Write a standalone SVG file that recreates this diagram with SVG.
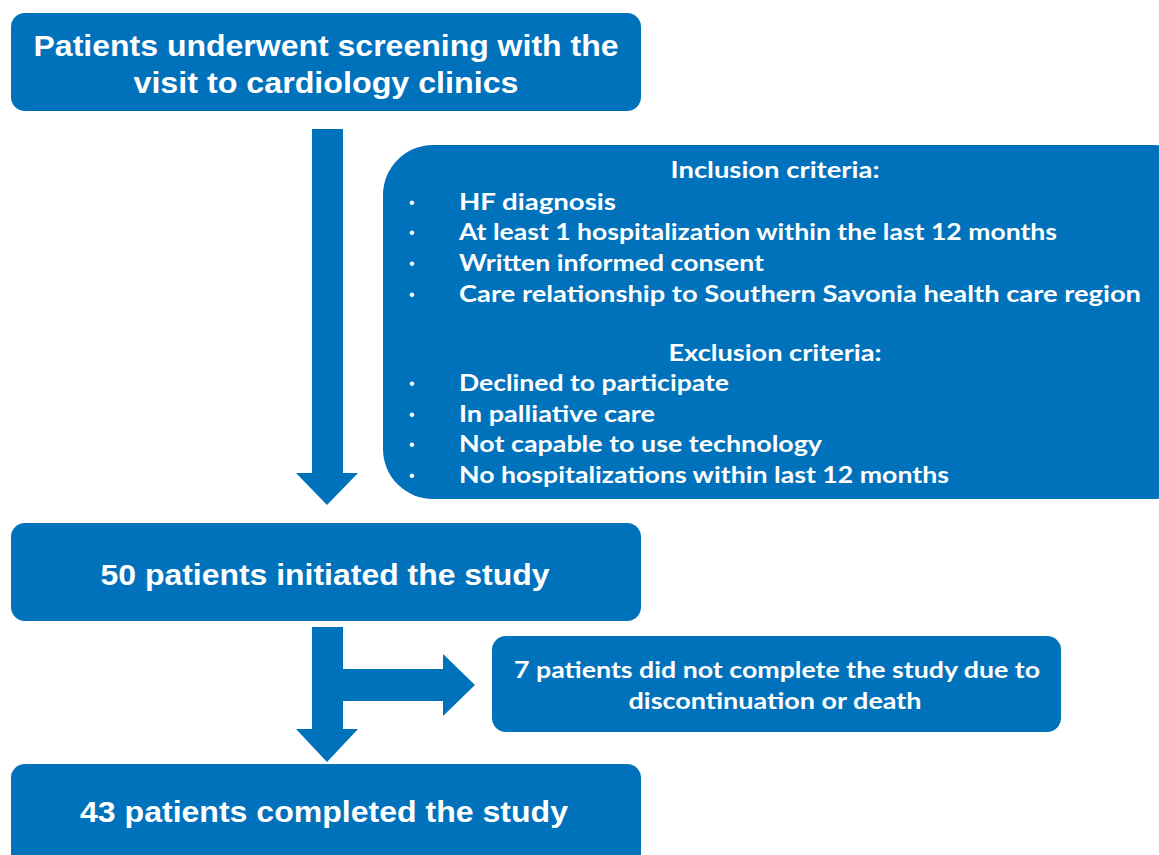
<svg xmlns="http://www.w3.org/2000/svg" width="1159" height="855" viewBox="0 0 1159 855">
<style>
.box{fill:#0072BC;}
.arr{fill:#0072BC;}
.big{font-family:"Liberation Sans",Arial,sans-serif;font-weight:bold;font-size:30px;fill:#fff;text-anchor:middle;}
.mid{font-family:Lato,"Liberation Sans",sans-serif;font-weight:bold;font-size:23px;fill:#fff;}
.c{text-anchor:middle;}
.b{font-family:"Liberation Sans",Arial,sans-serif;font-size:16px;fill:#fff;}
</style>
<rect width="1159" height="855" fill="#fff"/>
<g id="connectors">
  <polygon class="arr" points="312,129 343,129 343,473 358,473 327,505 296,473 312,473"/>
  <polygon class="arr" points="312,627 343,627 343,669 443,669 443,654 475,685 443,716 443,701 343,701 343,729 358,729 327,762 296,729 312,729"/>
</g>
<g id="screening">
  <rect class="box" x="11" y="13" width="630" height="98" rx="14"/>
  <text class="big" x="326" y="56" textLength="585" lengthAdjust="spacingAndGlyphs">Patients underwent screening with the</text>
  <text class="big" x="326" y="93" textLength="385" lengthAdjust="spacingAndGlyphs">visit to cardiology clinics</text>
</g>
<g id="criteria">
  <rect class="box" x="383" y="145" width="820" height="354" rx="50"/>
  <text class="mid c" x="775" y="178" textLength="209" lengthAdjust="spacingAndGlyphs">Inclusion criteria:</text>
  <text class="b" x="409" y="208">•</text><text class="mid" x="459" y="210" textLength="157" lengthAdjust="spacingAndGlyphs">HF diagnosis</text>
  <text class="b" x="409" y="238">•</text><text class="mid" x="459" y="240" textLength="598" lengthAdjust="spacingAndGlyphs">At least 1 hospitalization within the last 12 months</text>
  <text class="b" x="409" y="269">•</text><text class="mid" x="459" y="271" textLength="305" lengthAdjust="spacingAndGlyphs">Written informed consent</text>
  <text class="b" x="409" y="300">•</text><text class="mid" x="459" y="302" textLength="682" lengthAdjust="spacingAndGlyphs">Care relationship to Southern Savonia health care region</text>
  <text class="mid c" x="775" y="361" textLength="213" lengthAdjust="spacingAndGlyphs">Exclusion criteria:</text>
  <text class="b" x="409" y="389">•</text><text class="mid" x="459" y="391" textLength="270" lengthAdjust="spacingAndGlyphs">Declined to participate</text>
  <text class="b" x="409" y="420">•</text><text class="mid" x="459" y="422" textLength="196" lengthAdjust="spacingAndGlyphs">In palliative care</text>
  <text class="b" x="409" y="450">•</text><text class="mid" x="459" y="452" textLength="363" lengthAdjust="spacingAndGlyphs">Not capable to use technology</text>
  <text class="b" x="409" y="481">•</text><text class="mid" x="459" y="483" textLength="490" lengthAdjust="spacingAndGlyphs">No hospitalizations within last 12 months</text>
</g>
<g id="initiated">
  <rect class="box" x="11" y="523" width="630" height="98" rx="14"/>
  <text class="big" x="325" y="585" textLength="449" lengthAdjust="spacingAndGlyphs">50 patients initiated the study</text>
</g>
<g id="dropout">
  <rect class="box" x="492" y="636" width="569" height="96" rx="14"/>
  <text class="mid c" x="777" y="678" textLength="526" lengthAdjust="spacingAndGlyphs">7 patients did not complete the study  due to</text>
  <text class="mid c" x="775" y="709" textLength="293" lengthAdjust="spacingAndGlyphs">discontinuation or death</text>
</g>
<g id="completed">
  <rect class="box" x="11" y="764" width="630" height="110" rx="14"/>
  <text class="big" x="324" y="822" textLength="488" lengthAdjust="spacingAndGlyphs">43 patients completed the study</text>
</g>
</svg>
